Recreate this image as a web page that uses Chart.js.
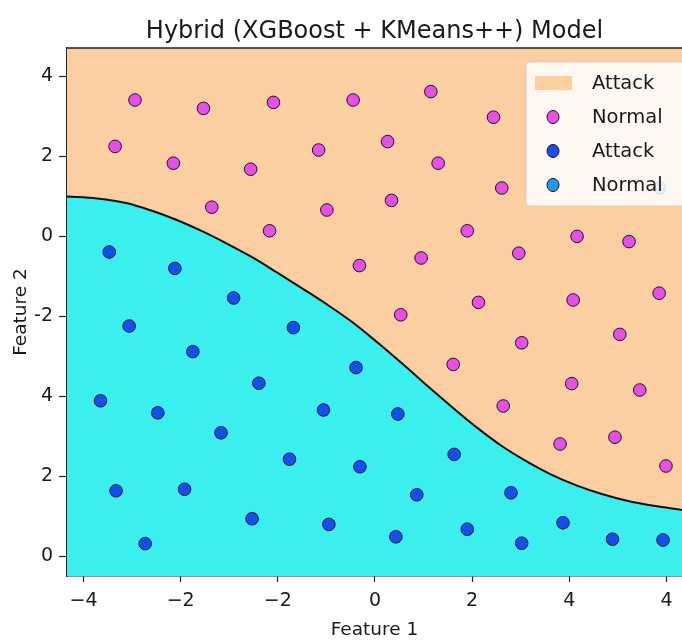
<!DOCTYPE html>
<html>
<head>
<meta charset="utf-8">
<script src="https://cdn.jsdelivr.net/npm/chart.js@4.4.1/dist/chart.umd.min.js"></script>
<style>
  html, body { margin: 0; padding: 0; background: #fff; overflow: hidden; }
  canvas { display: block; }
</style>
</head>
<body>
<canvas id="chart" width="682" height="641"></canvas>
<script>
// tick positions on the underlying axes, and the (odd) labels the figure prints there
const xTickValues = [-6, -4, -2, 0, 2, 4, 6];
const xTickLabels = ['−4', '−2', '−2', '0', '2', '4', '4'];
const yTickValues = [6, 4, 2, 0, -2, -4, -6];
const yTickLabels = ['4', '2', '0', '-2', '4', '2', '0'];

// decision boundary
const boundaryX = [-6.34, -5.72, -5.10, -4.59, -4.08, -3.56, -3.05, -2.53, -2.02, -1.50, -0.99, -0.47,
  0.04, 0.56, 1.07, 1.59, 2.10, 2.61, 3.13, 3.64, 4.16, 4.67, 5.19, 5.70, 6.32];
const boundaryY = [3.00, 2.95, 2.83, 2.64, 2.41, 2.13, 1.82, 1.48, 1.10, 0.70, 0.30, -0.14,
  -0.64, -1.18, -1.73, -2.27, -2.78, -3.24, -3.63, -3.96, -4.23, -4.44, -4.61, -4.73, -4.84];

// "Normal" points (magenta)
const normalX = [-4.94, -3.53, -2.09, -0.45, -5.35, -4.15, -2.56, -1.16, -3.36, -0.99, -2.17, -0.32,
  1.15, 2.44, 0.26, 1.30, 0.34, 2.61, 1.90, 0.95, 2.96, 4.16, 5.23, 2.13, 4.08, 5.85, 0.53,
  3.02, 5.04, 1.61, 4.05, 5.45, 2.64, 3.81, 4.94, 5.99];
const normalY = [5.41, 5.20, 5.35, 5.41, 4.25, 3.83, 3.68, 4.16, 2.73, 2.66, 2.14, 1.27,
  5.62, 4.98, 4.37, 3.83, 2.90, 3.21, 2.14, 1.46, 1.58, 2.00, 1.87, 0.35, 0.41, 0.58, 0.04,
  -0.66, -0.45, -1.20, -1.68, -1.84, -2.24, -3.19, -3.02, -3.74];

// "Attack" points (blue)
const attackX = [-5.47, -4.12, -2.91, -5.06, -1.68, -3.75, -0.39, -2.39, -5.65, -4.47, -1.06, -3.17,
  -1.76, -0.31, -5.33, -3.92, -2.53, -0.95, -4.73, 0.47, 1.63, 0.86, 2.80, 0.43, 1.90, 3.02,
  3.87, 4.89, 5.93];
const attackY = [1.61, 1.20, 0.46, -0.24, -0.28, -0.88, -1.28, -1.67, -2.11, -2.41, -2.34, -2.91,
  -3.57, -3.76, -4.36, -4.32, -5.06, -5.20, -5.68, -2.44, -3.45, -4.46, -4.41, -5.51, -5.32, -5.67,
  -5.16, -5.57, -5.59];

// second "Normal" series (light blue), only one point, behind the legend
const normal2X = [5.86];
const normal2Y = [3.21];

const pts = (xs, ys) => xs.map((x, i) => ({ x: x, y: ys[i] }));
const FONT = 'DejaVu Sans';
const INK = '#1a1a1a';

// top spine (Chart.js only draws the axis borders)
const frame = {
  id: 'frame',
  afterDatasetsDraw(chart) {
    const { ctx, chartArea: a } = chart;
    ctx.save();
    ctx.strokeStyle = '#222';
    ctx.lineWidth = 1.5;
    ctx.beginPath();
    ctx.moveTo(a.left, a.top);
    ctx.lineTo(a.right + 2, a.top);
    ctx.stroke();
    ctx.restore();
  }
};

// matplotlib style legend inside the upper right corner
const insideLegend = {
  id: 'insideLegend',
  afterDraw(chart) {
    const { ctx, chartArea: a } = chart;
    const items = chart.data.datasets.slice(0, 4);
    const x0 = a.right - 156, y0 = a.top + 14, w = 170, h = 144;
    ctx.save();
    ctx.fillStyle = 'rgba(255,255,255,0.86)';
    ctx.strokeStyle = 'rgba(200,200,200,0.8)';
    ctx.lineWidth = 1;
    ctx.beginPath();
    ctx.roundRect(x0, y0, w, h, 4);
    ctx.fill();
    ctx.stroke();
    ctx.font = '19.5px "' + FONT + '"';
    ctx.textBaseline = 'middle';
    ctx.textAlign = 'left';
    items.forEach((ds, i) => {
      const cy = y0 + 21 + i * 34;
      if (ds.type === 'line') {
        ctx.fillStyle = ds.backgroundColor;
        ctx.fillRect(x0 + 9, cy - 7, 37, 14);
      } else {
        ctx.beginPath();
        ctx.ellipse(x0 + 27, cy, 6, 6.5, 0, 0, Math.PI * 2);
        ctx.fillStyle = ds.backgroundColor;
        ctx.fill();
        ctx.strokeStyle = ds.borderColor;
        ctx.lineWidth = 1;
        ctx.stroke();
      }
      ctx.fillStyle = INK;
      ctx.fillText(ds.label, x0 + 66, cy + 1);
    });
    ctx.restore();
  }
};

const pointStyle = (fill) => ({
  backgroundColor: fill,
  borderColor: '#1c1030',
  borderWidth: 1,
  pointRadius: 6.3,
  pointHoverRadius: 6.3,
  order: 0
});

new Chart(document.getElementById('chart'), {
  type: 'scatter',
  data: {
    datasets: [
      {
        type: 'line', label: 'Attack', data: pts(boundaryX, boundaryY),
        fill: 'end', backgroundColor: '#FCCFA2', borderWidth: 0, pointRadius: 0,
        cubicInterpolationMode: 'monotone', order: 2
      },
      Object.assign({ label: 'Normal', data: pts(normalX, normalY) }, pointStyle('#E650E6')),
      Object.assign({ label: 'Attack', data: pts(attackX, attackY) }, pointStyle('#1250EE')),
      Object.assign({ label: 'Normal', data: pts(normal2X, normal2Y) }, pointStyle('#1E9BF0')),
      {
        type: 'line', label: 'boundary', data: pts(boundaryX, boundaryY),
        fill: 'start', backgroundColor: '#3CEFEF', borderColor: '#111', borderWidth: 2,
        pointRadius: 0, cubicInterpolationMode: 'monotone', order: 1
      }
    ]
  },
  options: {
    responsive: false,
    animation: false,
    layout: { padding: 0, autoPadding: false },
    plugins: {
      legend: { display: false },
      tooltip: { enabled: false },
      filler: { drawTime: 'beforeDatasetsDraw' },
      title: {
        display: true,
        fullSize: false,
        text: 'Hybrid (XGBoost + KMeans++) Model',
        color: INK,
        font: { family: FONT, size: 24, weight: 'normal' },
        padding: { top: 17.6, bottom: 1.6 }
      }
    },
    scales: {
      x: {
        type: 'linear',
        min: -6.34, max: 6.32,
        afterBuildTicks: s => { s.ticks = xTickValues.map(v => ({ value: v })); },
        afterFit: s => { s.height = 65; },
        ticks: {
          callback: v => xTickLabels[xTickValues.indexOf(v)],
          color: INK, font: { family: FONT, size: 19 }, padding: 8,
          maxRotation: 0, autoSkip: false
        },
        grid: { display: true, drawOnChartArea: false, tickLength: 6, tickColor: '#222', tickWidth: 1.2 },
        border: { display: true, color: '#222', width: 1.5 },
        title: { display: true, text: 'Feature 1', color: INK, font: { family: FONT, size: 18.5 }, padding: { top: 0, bottom: 0 } }
      },
      y: {
        type: 'linear',
        min: -6.49, max: 6.71,
        afterBuildTicks: s => { s.ticks = yTickValues.map(v => ({ value: v })); },
        afterFit: s => { s.width = 67; },
        ticks: {
          callback: v => yTickLabels[yTickValues.indexOf(v)],
          color: INK, font: { family: FONT, size: 19 }, padding: 6, autoSkip: false
        },
        grid: { display: true, drawOnChartArea: false, tickLength: 8, tickColor: '#222', tickWidth: 1.2 },
        border: { display: true, color: '#222', width: 1.5 },
        title: { display: true, text: 'Feature 2', color: INK, font: { family: FONT, size: 18.5 }, padding: { top: 10, bottom: 0 } }
      }
    }
  },
  plugins: [frame, insideLegend]
});
</script>
</body>
</html>
